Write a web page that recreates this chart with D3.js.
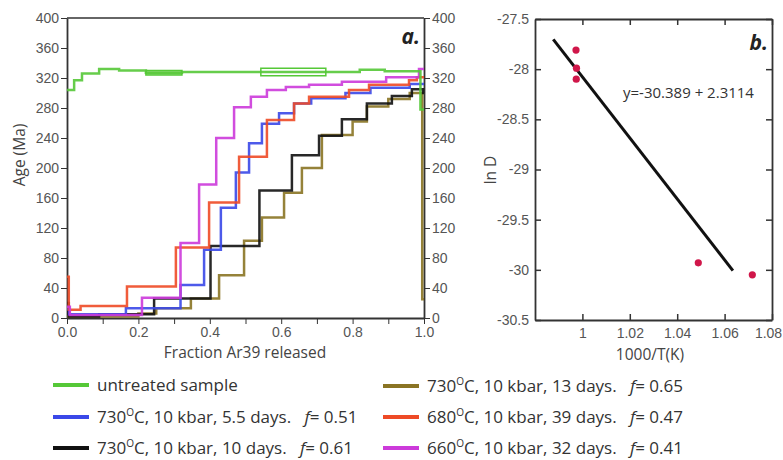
<!DOCTYPE html>
<html lang="en">
  <head>
    <meta charset="UTF-8" />
    <title>Age spectra and Arrhenius plot</title>
    <style>
      body { margin: 0; background: #fff; }
      svg { font-family: "Open Sans", "Noto Sans", sans-serif; }
      .tick text { font-size: 14px; fill: #555; }
      .tick line, .domain { stroke: #333; }
      .lbl { font-size: 15.5px; fill: #444; }
      .leg { font-size: 17px; fill: #333; }
    </style>
  </head>
  <body>
    <svg id="chart"></svg>
    <script src="https://cdnjs.cloudflare.com/ajax/libs/d3/7.4.4/d3.min.js"></script>
    <script>
      // age spectra: [fraction at end of step, age Ma]
      const green = [[0.02, 304], [0.042, 317], [0.09, 326], [0.146, 332], [0.221, 330], [0.322, 327],
        [0.543, 328], [0.725, 328], [0.82, 328], [0.89, 331], [0.99, 329], [1.0, 278]];
      const greenBoxes = [[0.221, 0.322, 324, 330], [0.543, 0.725, 323, 333]];
      const blue = [[0.006, 12], [0.165, 5], [0.318, 13], [0.384, 44], [0.431, 91], [0.473, 147],
        [0.51, 194], [0.546, 233], [0.594, 259], [0.636, 273], [0.684, 286], [0.78, 293],
        [0.85, 300], [0.96, 307], [1.0, 312]];
      const black = [[0.005, 20], [0.09, 2], [0.244, 5], [0.402, 26], [0.539, 96], [0.63, 170],
        [0.706, 217], [0.77, 243], [0.84, 265], [0.91, 286], [0.966, 296], [0.997, 305], [1.0, 300]];
      const olive = [[0.2, 2], [0.25, 6], [0.347, 13], [0.426, 26], [0.496, 57], [0.546, 103],
        [0.608, 134], [0.658, 167], [0.714, 200], [0.8, 244], [0.84, 262], [0.9, 282],
        [0.96, 292], [0.995, 300], [1.0, 25]];
      const orange = [[0.005, 55], [0.038, 11], [0.168, 16], [0.305, 42], [0.398, 94], [0.482, 154],
        [0.56, 215], [0.636, 264], [0.678, 286], [0.79, 295], [0.846, 304], [0.958, 311],
        [0.98, 317], [1.0, 321]];
      const magenta = [[0.008, 15], [0.21, 4], [0.318, 27], [0.37, 100], [0.418, 178], [0.468, 240],
        [0.515, 281], [0.56, 295], [0.613, 304], [0.678, 308], [0.77, 311], [0.894, 315],
        [0.986, 321], [1.0, 332]];

      const seriesNames = ["untreated sample", "730C 5.5 d", "730C 10 d", "730C 13 d", "680C 39 d", "660C 32 d"];
      const seriesColors = ["#55c837", "#3a48e8", "#111111", "#8a7424", "#ee4a26", "#cc3ada"];
      const seriesData = [green, blue, black, olive, orange, magenta];

      // panel b: Arrhenius points and fit
      const invT = [0.9973, 0.9975, 0.9974, 1.0489, 1.0717];
      const lnD = [-27.81, -27.99, -28.1, -29.93, -30.05];
      const fitSlope = -30.389, fitIntercept = 2.3114;
      const fitRange = [0.9877, 1.0635];

      const ageTicks = d3.range(0, 401, 40);
      const fracTicks = d3.range(0, 1.001, 0.1);
      const invTTicks = [1, 1.02, 1.04, 1.06, 1.08];
      const lnDTicks = [-27.5, -28, -28.5, -29, -29.5, -30, -30.5];

      const svg = d3.select("#chart").attr("width", 783).attr("height", 460);

      // ---------- panel a ----------
      const x = d3.scaleLinear().domain([0, 1]).range([67, 424]);
      const y = d3.scaleLinear().domain([0, 400]).range([318, 18]);

      const pa = svg.append("g");

      pa.append("g").attr("transform", "translate(67,0)")
        .call(d3.axisLeft(y).tickValues(ageTicks).tickSize(6).tickSizeOuter(0).tickPadding(2));
      pa.append("g").attr("transform", "translate(424,0)")
        .call(d3.axisRight(y).tickValues(ageTicks).tickSize(6).tickSizeOuter(0).tickPadding(2));
      pa.append("g").attr("transform", "translate(0,318)")
        .call(d3.axisBottom(x).tickValues(fracTicks).tickSize(6).tickSizeOuter(0).tickPadding(3)
          .tickFormat((d) => (Math.round(d * 10) % 2 === 0 ? d3.format(".1f")(d) : "")));
      pa.append("line").attr("x1", 67).attr("x2", 424).attr("y1", 18).attr("y2", 18)
        .attr("stroke", "#333").attr("stroke-width", 1.5);
      pa.selectAll(".domain").attr("stroke-width", 1.8);

      // green error boxes
      pa.selectAll("rect.gbox").data(greenBoxes).enter().append("rect")
        .attr("class", "gbox")
        .attr("x", (d) => x(d[0])).attr("width", (d) => x(d[1]) - x(d[0]))
        .attr("y", (d) => y(d[3])).attr("height", (d) => y(d[2]) - y(d[3]))
        .attr("fill", (d, i) => (i === 0 ? "#a9df92" : "#fff"))
        .attr("stroke", "#55c837").attr("stroke-width", 1.5);

      function stepPath(steps) {
        let p = "M" + x(0) + "," + y(steps[0][1]);
        steps.forEach((s, i) => {
          p += "H" + x(s[0]);
          if (i < steps.length - 1) p += "V" + y(steps[i + 1][1]);
        });
        return p;
      }

      const order = [3, 2, 1, 4, 5, 0];
      order.forEach((k) => {
        pa.append("path").attr("d", stepPath(seriesData[k]))
          .attr("fill", "none").attr("stroke", seriesColors[k])
          .attr("stroke-width", 2.5).attr("stroke-opacity", 0.9);
      });

      pa.append("text").attr("x", 420).attr("y", 44).attr("text-anchor", "end")
        .attr("font-size", 21).attr("font-weight", "bold").attr("font-style", "italic")
        .attr("fill", "#222").text("a.");
      pa.append("text").attr("class", "lbl").attr("x", 245).attr("y", 358)
        .attr("text-anchor", "middle").text("Fraction Ar39 released");
      pa.append("text").attr("class", "lbl")
        .attr("transform", "translate(25,155) rotate(-90)")
        .attr("text-anchor", "middle").text("Age (Ma)");

      // ---------- panel b ----------
      const xb = d3.scaleLinear().domain([0.98, 1.08]).range([535, 772]);
      const yb = d3.scaleLinear().domain([-30.5, -27.5]).range([320, 19]);
      const pb = svg.append("g");

      pb.append("g").attr("transform", "translate(0,320)")
        .call(d3.axisBottom(xb).tickValues(invTTicks).tickSize(-6).tickSizeOuter(0).tickPadding(8)
          .tickFormat((d) => (d === 1 ? "1" : d3.format(".2f")(d))))
        .selectAll(".tick text").attr("dx", (d) => (d === 1.08 ? -4 : 0));
      pb.append("g").attr("transform", "translate(0,19)")
        .call(d3.axisTop(xb).tickValues(invTTicks).tickSize(-6).tickSizeOuter(0).tickFormat(""));
      pb.append("g").attr("transform", "translate(535,0)")
        .call(d3.axisLeft(yb).tickValues(lnDTicks).tickSize(-6).tickSizeOuter(0).tickPadding(6)
          .tickFormat((d) => String(d)));
      pb.append("g").attr("transform", "translate(772,0)")
        .call(d3.axisRight(yb).tickValues(lnDTicks).tickSize(-6).tickSizeOuter(0).tickFormat(""));
      pb.selectAll(".domain").attr("stroke-width", 1.8);
      pb.selectAll(".tick line").attr("stroke-width", 1.5);

      pb.append("line")
        .attr("x1", xb(fitRange[0])).attr("y1", yb(fitSlope * fitRange[0] + fitIntercept))
        .attr("x2", xb(fitRange[1])).attr("y2", yb(fitSlope * fitRange[1] + fitIntercept))
        .attr("stroke", "#111").attr("stroke-width", 3);

      pb.selectAll("circle").data(invT).enter().append("circle")
        .attr("cx", (d) => xb(d)).attr("cy", (d, i) => yb(lnD[i]))
        .attr("r", 3.6).attr("fill", "#d0174a");

      pb.append("text").attr("x", 623).attr("y", 98).attr("font-size", 15).attr("fill", "#333")
        .text("y=-30.389 + 2.3114");
      pb.append("text").attr("x", 768).attr("y", 50).attr("text-anchor", "end")
        .attr("font-size", 21).attr("font-weight", "bold").attr("font-style", "italic")
        .attr("fill", "#222").text("b.");
      pb.append("text").attr("class", "lbl").attr("x", 650).attr("y", 360)
        .attr("text-anchor", "middle").text("1000/T(K)");
      pb.append("text").attr("class", "lbl")
        .attr("transform", "translate(496,170) rotate(-90)")
        .attr("text-anchor", "middle").text("ln D");

      // ---------- legend ----------
      const legTemp = [null, "730", "730", "730", "680", "660"];
      const legRest = [null, "C, 10 kbar, 5.5 days.   ", "C, 10 kbar, 10 days.   ", "C, 10 kbar, 13 days.   ",
        "C, 10 kbar, 39 days.   ", "C, 10 kbar, 32 days.   "];
      const legF = [null, "0.51", "0.61", "0.65", "0.47", "0.41"];
      const legPos = [[53, 385], [53, 417], [53, 448], [383, 386], [383, 417], [383, 448]];

      const leg = svg.append("g");
      seriesNames.forEach((name, i) => {
        const [lx, ly] = legPos[i];
        leg.append("line").attr("x1", lx).attr("x2", lx + 36).attr("y1", ly).attr("y2", ly)
          .attr("stroke", seriesColors[i]).attr("stroke-width", 4);
        const t = leg.append("text").attr("class", "leg").attr("x", lx + 44).attr("y", ly + 6)
          .attr("xml:space", "preserve");
        if (legTemp[i] === null) {
          t.text(name);
        } else {
          t.append("tspan").text(legTemp[i]);
          t.append("tspan").attr("font-size", 10).attr("dy", -7).text("O");
          t.append("tspan").attr("dy", 7).text(legRest[i]);
          t.append("tspan").attr("font-style", "italic").text("f");
          t.append("tspan").text("= " + legF[i]);
        }
      });
    </script>
  </body>
</html>
